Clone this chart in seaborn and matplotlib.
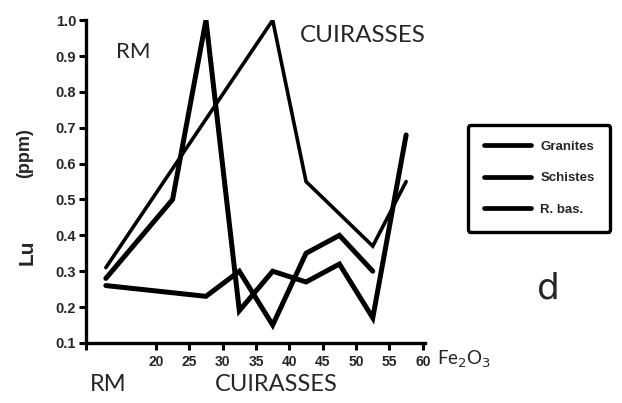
import matplotlib
matplotlib.use("Agg")
import matplotlib.pyplot as plt
import seaborn as sns
import pandas as pd

# Fe2O3 classes (RM sample first, then the cuirasse classes)
granites_x = [12.5, 22.5, 27.5, 32.5, 37.5, 42.5, 47.5, 52.5, 57.5]
granites_lu = [0.28, 0.50, 1.00, 0.19, 0.30, 0.27, 0.32, 0.17, 0.68]

schistes_x = [12.5, 27.5, 32.5, 37.5, 42.5, 47.5, 52.5]
schistes_lu = [0.26, 0.23, 0.30, 0.15, 0.35, 0.40, 0.30]

rbas_x = [12.5, 37.5, 42.5, 52.5, 57.5]
rbas_lu = [0.31, 1.00, 0.55, 0.37, 0.55]

series_names = ["Granites", "Schistes", "R. bas."]
x_ticks = [20, 25, 30, 35, 40, 45, 50, 55, 60]
y_ticks = [0.1, 0.2, 0.3, 0.4, 0.5, 0.6, 0.7, 0.8, 0.9, 1.0]

frames = []
for name, xs, ys in zip(series_names,
                        [granites_x, schistes_x, rbas_x],
                        [granites_lu, schistes_lu, rbas_lu]):
    frames.append(pd.DataFrame({"Fe2O3": xs, "Lu": ys, "serie": name}))
df = pd.concat(frames, ignore_index=True)

sns.set_theme(style="white")
plt.rcParams["font.family"] = ["Liberation Sans", "DejaVu Sans"]

fig = plt.figure(figsize=(6.22, 4.03), dpi=100)
ax = fig.add_axes([0.138, 0.149, 0.545, 0.801])

widths = {"Granites": 3.6, "Schistes": 3.6, "R. bas.": 2.6}
for name in series_names:
    sub = df[df["serie"] == name]
    sns.lineplot(data=sub, x="Fe2O3", y="Lu", ax=ax, color="black",
                 linewidth=widths[name], label=name, sort=False,
                 solid_joinstyle="miter", solid_capstyle="round")

ax.set_xlim(9.5, 60.3)
ax.set_ylim(0.1, 1.0)
ax.set_xticks(x_ticks)
ax.set_xticklabels([str(t) for t in x_ticks], fontsize=10, fontweight="bold")
ax.set_xticks([9.5], minor=True)
ax.set_yticks(y_ticks)
ax.set_yticklabels([f"{t:.1f}" for t in y_ticks], fontsize=10.5, fontweight="bold")
ax.tick_params(axis="both", which="both", direction="out", length=5,
               width=2.2, color="black", bottom=True, left=True, pad=2)
ax.tick_params(axis="x", which="major", pad=4)
ax.set_xlabel("")
ax.set_ylabel("")
for side in ["top", "right"]:
    ax.spines[side].set_visible(False)
for side in ["left", "bottom"]:
    ax.spines[side].set_linewidth(2.4)
    ax.spines[side].set_color("black")
ax.grid(False)

leg = ax.legend(loc="upper left", bbox_to_anchor=(0.752, 0.690),
                bbox_transform=fig.transFigure,
                frameon=True, fancybox=True, handlelength=3.6,
                prop={"weight": "bold", "size": 9.5,
                      "family": ["Liberation Sans Narrow", "Liberation Sans"]},
                labelspacing=1.45, borderpad=1.2, handletextpad=0.7,
                borderaxespad=0)
frame = leg.get_frame()
frame.set_edgecolor("black")
frame.set_linewidth(2.4)
frame.set_facecolor("white")
frame.set_alpha(1)
for line in leg.get_lines():
    line.set_linewidth(3.4)

label_font = ["Lato", "DejaVu Sans"]
fig.text(0.187, 0.870, "RM", fontsize=16, family=label_font, va="center")
fig.text(0.482, 0.913, "CUIRASSES", fontsize=17.5, family=label_font, va="center")
fig.text(0.145, 0.045, "RM", fontsize=17, family=label_font, va="center")
fig.text(0.345, 0.045, "CUIRASSES", fontsize=17, family=label_font, va="center")
fig.text(0.864, 0.285, "d", fontsize=26, family=["DejaVu Sans"], va="center")
fig.text(0.702, 0.108, r"Fe$_2$O$_3$", fontsize=13.5, family=label_font, va="center")
fig.text(0.043, 0.375, "Lu", fontsize=15, fontweight="bold", rotation=90,
         ha="center", va="center")
fig.text(0.040, 0.620, "(ppm)", fontsize=13, fontweight="bold", rotation=90,
         ha="center", va="center")

fig.savefig("out.png", dpi=100)
